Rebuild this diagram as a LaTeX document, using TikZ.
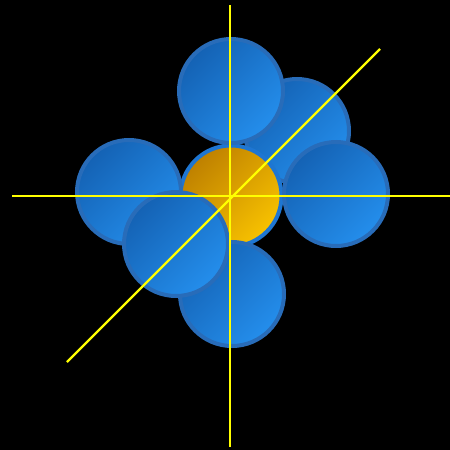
\documentclass[tikz,border=0pt]{standalone}
\usetikzlibrary{shadings}
\definecolor{bdark}{RGB}{20,98,180}
\definecolor{blight}{RGB}{36,142,236}
\definecolor{bring}{RGB}{40,108,185}
\definecolor{odark}{RGB}{190,128,0}
\definecolor{olight}{RGB}{248,194,0}
\definecolor{oring}{RGB}{30,118,210}
\definecolor{axisyellow}{RGB}{255,255,0}
\tikzset{
  bluesphere/.style={circle, minimum size=104pt, inner sep=0pt, draw=bring, line width=4pt,
    left color=bdark, right color=blight, shading angle=45},
  orangesphere/.style={circle, minimum size=101pt, inner sep=0pt, draw=oring, line width=4pt,
    left color=odark, right color=olight, shading angle=45},
  axisline/.style={draw=axisyellow, line width=2.2pt}
}
\begin{document}
\begin{tikzpicture}[x=1pt,y=-1pt]
\fill[black] (0,0) rectangle (450,450);
\useasboundingbox (0,0) rectangle (450,450);
\node[bluesphere] (back) at (297,131) {};
\node[orangesphere] (center) at (231,196) {};
\node[bluesphere] (bottom) at (232,294) {};
\node[bluesphere] (left) at (129,192) {};
\node[bluesphere] (right) at (336,194) {};
\node[bluesphere] (top) at (231,91) {};
\node[bluesphere] (front) at (176,244) {};
\coordinate (vtop) at (230,5);
\coordinate (vbot) at (230,447);
\coordinate (hleft) at (12,196);
\coordinate (hright) at (450,196);
\coordinate (dlow) at (67,362);
\coordinate (dhigh) at (380,49);
\draw[axisline] (vtop) -- (vbot);
\draw[axisline] (hleft) -- (hright);
\draw[axisline] (dlow) -- (dhigh);
\end{tikzpicture}
\end{document}
